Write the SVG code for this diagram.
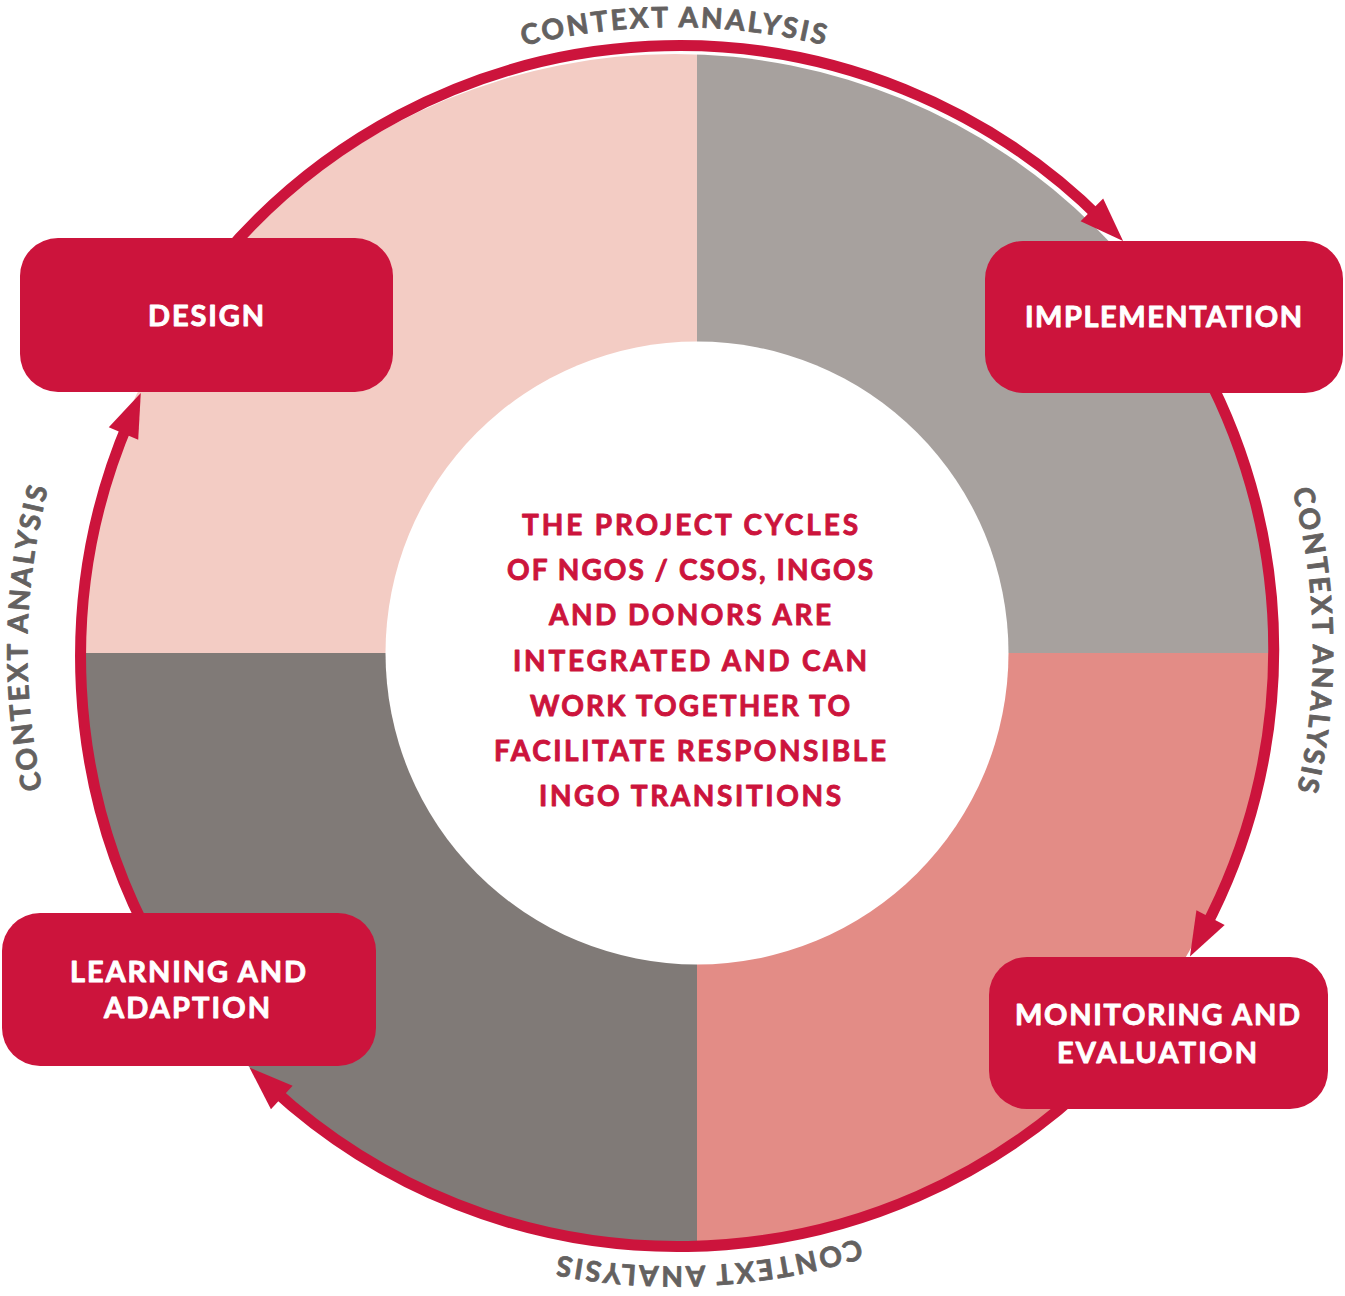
<svg xmlns="http://www.w3.org/2000/svg" width="1345" height="1296" viewBox="0 0 1345 1296">
  <style>
    .box { fill: #CC143C; }
    .node-label { font-family: Lato, "Open Sans", sans-serif; font-weight: 700; font-size: 29px; fill: #FFFFFF; stroke: #FFFFFF; stroke-width: 0.9px; stroke-linejoin: round; text-anchor: middle; }
    .core { font-family: Lato, "Open Sans", sans-serif; font-weight: 700; font-size: 28px; fill: #CC143C; stroke: #CC143C; stroke-width: 0.9px; stroke-linejoin: round; text-anchor: middle; }
    .ring-label { font-family: Lato, "Open Sans", sans-serif; font-weight: 700; font-size: 28px; fill: #646160; stroke: #646160; stroke-width: 0.8px; stroke-linejoin: round; letter-spacing: 2.6px; }
    .flow { fill: none; stroke: #CC143C; stroke-width: 11; marker-end: url(#head); }
  </style>
  <defs>
    <clipPath id="disc">
      <circle cx="675" cy="650" r="596"/>
    </clipPath>
    <marker id="head" markerUnits="userSpaceOnUse" markerWidth="50" markerHeight="40" viewBox="-50 -20 50 40" refX="-30" refY="0" orient="auto">
      <path d="M0,0 L-44,-16 L-44,16 Z" fill="#CC143C"/>
    </marker>
    <!-- baselines for the curved labels, all running clockwise -->
    <path id="arc-top" d="M135.5,338.5 A623,623 0 0 1 1214.5,338.5"/>
    <path id="arc-right" d="M985.3,94.8 A634,634 0 0 1 1000.6,1196.3"/>
    <path id="arc-bottom" d="M1224.9,929.0 A617,617 0 0 1 158.5,987.0"/>
    <path id="arc-left" d="M339.3,1203.3 A646,646 0 0 1 362.6,84.1"/>
  </defs>

  <rect width="1345" height="1296" fill="#FFFFFF"/>

  <!-- four quadrants of the cycle -->
  <g id="quadrants" clip-path="url(#disc)">
    <rect x="0" y="0" width="697" height="653" fill="#F3CCC4"/>
    <rect x="697" y="0" width="648" height="653" fill="#A7A19E"/>
    <rect x="0" y="653" width="697" height="643" fill="#807A77"/>
    <rect x="697" y="653" width="648" height="643" fill="#E38C86"/>
  </g>

  <!-- centre statement -->
  <g id="centre">
    <circle cx="697" cy="653" r="311.5" fill="#FFFFFF"/>
    <text class="core" x="690" y="535" textLength="336" lengthAdjust="spacing">THE PROJECT CYCLES</text>
    <text class="core" x="690" y="580" textLength="366" lengthAdjust="spacing">OF NGOS / CSOS, INGOS</text>
    <text class="core" x="690" y="625" textLength="282" lengthAdjust="spacing">AND DONORS ARE</text>
    <text class="core" x="690" y="670.5" textLength="354" lengthAdjust="spacing">INTEGRATED AND CAN</text>
    <text class="core" x="690" y="715.5" textLength="320" lengthAdjust="spacing">WORK TOGETHER TO</text>
    <text class="core" x="690" y="760.5" textLength="392" lengthAdjust="spacing">FACILITATE RESPONSIBLE</text>
    <text class="core" x="690" y="806" textLength="302" lengthAdjust="spacing">INGO TRANSITIONS</text>
  </g>

  <!-- cycle arrows -->
  <g id="connectors">
    <path class="flow" d="M216.1,265 A599,599 0 0 1 1101.8,219.8"/>
    <path class="flow" d="M1203.9,368.8 A599,599 0 0 1 1204,930"/>
    <path class="flow" d="M1098.6,1073.6 A599,599 0 0 1 271.5,1087.9"/>
    <path class="flow" d="M156.3,949.5 A602,602 0 0 1 129,420.6"/>
  </g>

  <!-- context labels around the ring -->
  <g id="context-labels">
    <text class="ring-label"><textPath href="#arc-top" startOffset="50%" text-anchor="middle">CONTEXT ANALYSIS</textPath></text>
    <text class="ring-label"><textPath href="#arc-right" startOffset="50%" text-anchor="middle">CONTEXT ANALYSIS</textPath></text>
    <text class="ring-label"><textPath href="#arc-bottom" startOffset="50%" text-anchor="middle">CONTEXT ANALYSIS</textPath></text>
    <text class="ring-label"><textPath href="#arc-left" startOffset="50%" text-anchor="middle">CONTEXT ANALYSIS</textPath></text>
  </g>

  <g id="design">
    <rect class="box" x="20" y="238" width="373" height="154" rx="38"/>
    <text class="node-label" x="206" y="326" textLength="116" lengthAdjust="spacing">DESIGN</text>
  </g>

  <g id="implementation">
    <rect class="box" x="985" y="241" width="358" height="152" rx="38"/>
    <text class="node-label" x="1163.5" y="327" textLength="277" lengthAdjust="spacing">IMPLEMENTATION</text>
  </g>

  <g id="monitoring">
    <rect class="box" x="989" y="957" width="339" height="152" rx="38"/>
    <text class="node-label" x="1157.5" y="1025" textLength="285" lengthAdjust="spacing">MONITORING AND</text>
    <text class="node-label" x="1157" y="1063" textLength="200" lengthAdjust="spacing">EVALUATION</text>
  </g>

  <g id="learning">
    <rect class="box" x="2" y="913" width="374" height="153" rx="38"/>
    <text class="node-label" x="188" y="982" textLength="236" lengthAdjust="spacing">LEARNING AND</text>
    <text class="node-label" x="187" y="1018" textLength="166" lengthAdjust="spacing">ADAPTION</text>
  </g>
</svg>
